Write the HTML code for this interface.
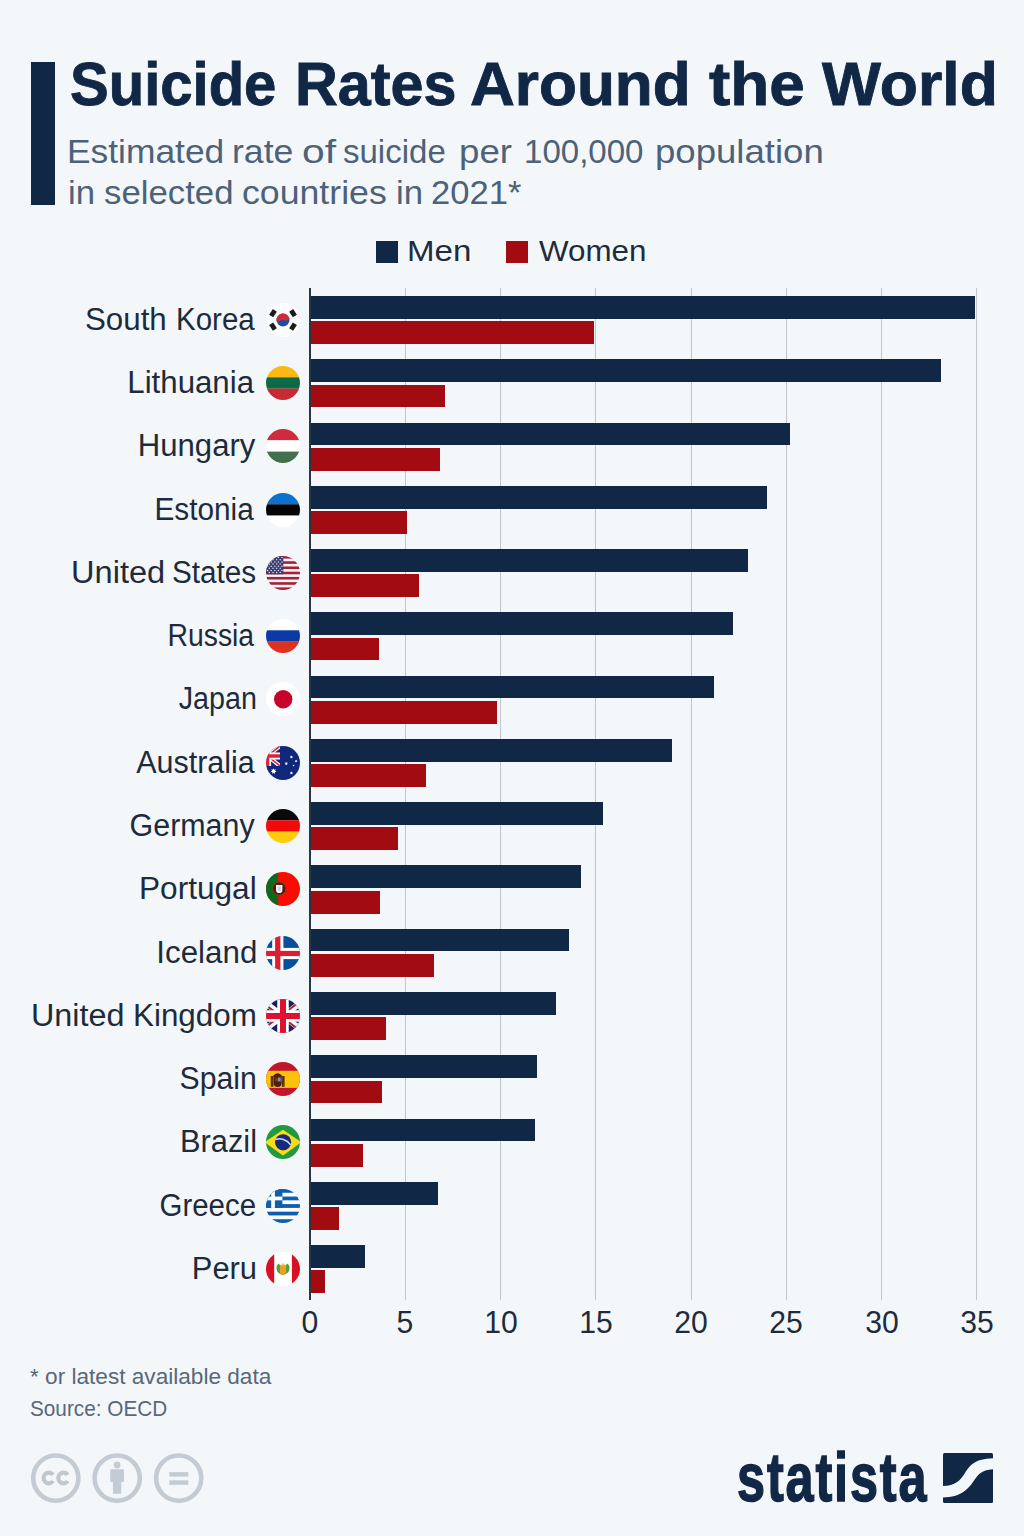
<!DOCTYPE html>
<html lang="en"><head><meta charset="utf-8"><title>Suicide Rates Around the World</title>
<style>
html,body{margin:0;padding:0;}
body{width:1024px;height:1536px;background:#f4f7fa;position:relative;overflow:hidden;font-family:"Liberation Sans",sans-serif;}
.t{position:absolute;white-space:nowrap;line-height:1;margin:0;padding:0;}
.wrap{margin:0;padding:0;height:0;font-size:0;line-height:0;font-weight:normal;}
.l{transform-origin:0 0;}
.r{transform-origin:100% 0;}
.c{transform-origin:50% 0;}
.bar{position:absolute;left:310.0px;}
.m{background:#102746;height:22.8px;}
.w{background:#a30b12;height:22.8px;}
.g{position:absolute;top:288px;width:1px;height:1012px;background:#c1c6cc;}
.flag{position:absolute;left:266px;width:34px;height:34px;}
.flag svg{display:block;width:34px;height:34px;}
.lab{color:#1e2b3c;font-size:28.5px;}
.ax{color:#1e2b3c;font-size:28.5px;}
.fn{color:#4d6279;font-size:21.5px;}
</style></head><body>
<div style="position:absolute;left:31px;top:62px;width:23.5px;height:142.5px;background:#102746"></div>
<h1 class="wrap">
<span id="title_0" class="t l " style="top:53.02px;font-size:61.4px;color:#102746;font-weight:bold;left:69.55px;transform:scaleX(0.9452);-webkit-text-stroke:0.9px #102746;">Suicide</span>
<span id="title_1" class="t l " style="top:53.02px;font-size:61.4px;color:#102746;font-weight:bold;left:295.15px;transform:scaleX(0.9654);-webkit-text-stroke:0.9px #102746;">Rates</span>
<span id="title_2" class="t l " style="top:53.02px;font-size:61.4px;color:#102746;font-weight:bold;left:470.35px;transform:scaleX(1.0113);-webkit-text-stroke:0.9px #102746;">Around</span>
<span id="title_3" class="t l " style="top:53.02px;font-size:61.4px;color:#102746;font-weight:bold;left:709.35px;transform:scaleX(1.0403);-webkit-text-stroke:0.9px #102746;">the</span>
<span id="title_4" class="t l " style="top:53.02px;font-size:61.4px;color:#102746;font-weight:bold;left:822.15px;transform:scaleX(1.0178);-webkit-text-stroke:0.9px #102746;">World</span>
</h1>
<p class="wrap">
<span id="sub1_0" class="t l " style="top:134.92px;font-size:33.4px;color:#4d6279;left:66.65px;transform:scaleX(1.0595);">Estimated</span>
<span id="sub1_1" class="t l " style="top:134.92px;font-size:33.4px;color:#4d6279;left:231.90px;transform:scaleX(1.0662);">rate</span>
<span id="sub1_2" class="t l " style="top:134.92px;font-size:33.4px;color:#4d6279;left:302.15px;transform:scaleX(1.2198);">of</span>
<span id="sub1_3" class="t l " style="top:134.92px;font-size:33.4px;color:#4d6279;left:343.20px;transform:scaleX(0.9885);">suicide</span>
<span id="sub1_4" class="t l " style="top:134.92px;font-size:33.4px;color:#4d6279;left:459.20px;transform:scaleX(1.0988);">per</span>
<span id="sub1_5" class="t l " style="top:134.92px;font-size:33.4px;color:#4d6279;left:524.40px;transform:scaleX(0.9900);">100,000</span>
<span id="sub1_6" class="t l " style="top:134.92px;font-size:33.4px;color:#4d6279;left:654.50px;transform:scaleX(1.0954);">population</span>
</p>
<p class="wrap">
<span id="sub2_0" class="t l " style="top:176.02px;font-size:33.4px;color:#4d6279;left:67.80px;transform:scaleX(1.0396);">in</span>
<span id="sub2_1" class="t l " style="top:176.02px;font-size:33.4px;color:#4d6279;left:103.60px;transform:scaleX(1.0410);">selected</span>
<span id="sub2_2" class="t l " style="top:176.02px;font-size:33.4px;color:#4d6279;left:242.30px;transform:scaleX(1.0684);">countries</span>
<span id="sub2_3" class="t l " style="top:176.02px;font-size:33.4px;color:#4d6279;left:395.70px;transform:scaleX(1.0416);">in</span>
<span id="sub2_4" class="t l " style="top:176.02px;font-size:33.4px;color:#4d6279;left:431.00px;transform:scaleX(1.0350);">2021*</span>
</p>
<div style="position:absolute;left:376px;top:241px;width:22px;height:21.5px;background:#102746"></div>
<div style="position:absolute;left:505.5px;top:241px;width:22px;height:21.5px;background:#a30b12"></div>
<div id="legm" class="t l " style="top:236.10px;font-size:30px;color:#1e2b3c;left:407.45px;transform:scaleX(1.1015);">Men</div>
<div id="legw" class="t l " style="top:236.10px;font-size:30px;color:#1e2b3c;left:539.25px;transform:scaleX(1.0445);">Women</div>
<div class="g" style="left:404.75px"></div>
<div class="g" style="left:500.00px"></div>
<div class="g" style="left:595.25px"></div>
<div class="g" style="left:690.50px"></div>
<div class="g" style="left:785.75px"></div>
<div class="g" style="left:881.00px"></div>
<div class="g" style="left:976.25px"></div>
<div class="bar m" style="top:296.00px;width:664.85px"></div>
<div class="bar w" style="top:321.30px;width:283.85px"></div>
<div class="flag" style="top:302.85px"><svg viewBox="0 0 34 34"><defs><clipPath id="c_kr"><circle cx="17" cy="17" r="17"/></clipPath></defs><g clip-path="url(#c_kr)"><rect width="34" height="34" fill="#ffffff"/><rect x="4.6" y="6.799999999999999" width="4.8" height="6.8" fill="#1c1c1c" transform="rotate(33 7 10.2)"/><rect x="24.6" y="6.799999999999999" width="4.8" height="6.8" fill="#1c1c1c" transform="rotate(-33 27 10.2)"/><rect x="4.6" y="20.200000000000003" width="4.8" height="6.8" fill="#1c1c1c" transform="rotate(-33 7 23.6)"/><rect x="24.6" y="20.200000000000003" width="4.8" height="6.8" fill="#1c1c1c" transform="rotate(33 27 23.6)"/><circle cx="17" cy="17" r="6.5" fill="#1d4ea0"/><path d="M10.6 18.2 A6.5 6.5 0 0 1 23.4 15.8 C 21 19.5 17.5 15.5 14.5 17.6 C 13 18.7 11.5 19 10.6 18.2 Z" fill="#d22b36"/></g></svg></div>
<div class="wrap">
<span id="lab_kr_0" class="t l lab" style="top:304.82px;font-size:30.8px;left:85.10px;transform:scaleX(1.0161);">South</span>
<span id="lab_kr_1" class="t l lab" style="top:304.82px;font-size:30.8px;left:175.50px;transform:scaleX(0.9578);">Korea</span>
</div>
<div class="bar m" style="top:359.27px;width:630.56px"></div>
<div class="bar w" style="top:384.57px;width:135.25px"></div>
<div class="flag" style="top:366.12px"><svg viewBox="0 0 34 34"><defs><clipPath id="c_lt"><circle cx="17" cy="17" r="17"/></clipPath></defs><g clip-path="url(#c_lt)"><rect width="34" height="11.4" fill="#fdb913"/><rect y="11.3" width="34" height="11.4" fill="#0a6b45"/><rect y="22.6" width="34" height="11.4" fill="#c92a32"/></g></svg></div>
<div id="lab_lt" class="t r lab" style="top:368.09px;font-size:30.8px;right:769.95px;transform:scaleX(1.0135);">Lithuania</div>
<div class="bar m" style="top:422.54px;width:480.06px"></div>
<div class="bar w" style="top:447.84px;width:129.54px"></div>
<div class="flag" style="top:429.39px"><svg viewBox="0 0 34 34"><defs><clipPath id="c_hu"><circle cx="17" cy="17" r="17"/></clipPath></defs><g clip-path="url(#c_hu)"><rect width="34" height="11.4" fill="#cf2b3d"/><rect y="11.3" width="34" height="11.4" fill="#ffffff"/><rect y="22.6" width="34" height="11.4" fill="#43704c"/></g></svg></div>
<div id="lab_hu" class="t r lab" style="top:431.36px;font-size:30.8px;right:768.85px;transform:scaleX(1.0106);">Hungary</div>
<div class="bar m" style="top:485.81px;width:457.20px"></div>
<div class="bar w" style="top:511.11px;width:97.16px"></div>
<div class="flag" style="top:492.66px"><svg viewBox="0 0 34 34"><defs><clipPath id="c_ee"><circle cx="17" cy="17" r="17"/></clipPath></defs><g clip-path="url(#c_ee)"><rect width="34" height="11.4" fill="#0c72ce"/><rect y="11.3" width="34" height="11.4" fill="#050505"/><rect y="22.6" width="34" height="11.4" fill="#ffffff"/></g></svg></div>
<div id="lab_ee" class="t r lab" style="top:494.63px;font-size:30.8px;right:770.10px;transform:scaleX(0.9665);">Estonia</div>
<div class="bar m" style="top:549.08px;width:438.15px"></div>
<div class="bar w" style="top:574.38px;width:108.59px"></div>
<div class="flag" style="top:555.93px"><svg viewBox="0 0 34 34"><defs><clipPath id="c_us"><circle cx="17" cy="17" r="17"/></clipPath></defs><g clip-path="url(#c_us)"><rect width="34" height="34" fill="#fdf1f3"/><rect y="0.00" width="34" height="2.62" fill="#a0253a"/><rect y="5.23" width="34" height="2.62" fill="#a0253a"/><rect y="10.46" width="34" height="2.62" fill="#a0253a"/><rect y="15.69" width="34" height="2.62" fill="#a0253a"/><rect y="20.92" width="34" height="2.62" fill="#a0253a"/><rect y="26.15" width="34" height="2.62" fill="#a0253a"/><rect y="31.38" width="34" height="2.62" fill="#a0253a"/><rect width="17.3" height="18.31" fill="#3a3a6e"/><circle cx="1.6" cy="1.6" r="0.75" fill="#e8e8f4"/><circle cx="5.2" cy="1.6" r="0.75" fill="#e8e8f4"/><circle cx="8.8" cy="1.6" r="0.75" fill="#e8e8f4"/><circle cx="12.4" cy="1.6" r="0.75" fill="#e8e8f4"/><circle cx="16.0" cy="1.6" r="0.75" fill="#e8e8f4"/><circle cx="3.4" cy="3.8" r="0.75" fill="#e8e8f4"/><circle cx="7.0" cy="3.8" r="0.75" fill="#e8e8f4"/><circle cx="10.6" cy="3.8" r="0.75" fill="#e8e8f4"/><circle cx="14.2" cy="3.8" r="0.75" fill="#e8e8f4"/><circle cx="1.6" cy="5.9" r="0.75" fill="#e8e8f4"/><circle cx="5.2" cy="5.9" r="0.75" fill="#e8e8f4"/><circle cx="8.8" cy="5.9" r="0.75" fill="#e8e8f4"/><circle cx="12.4" cy="5.9" r="0.75" fill="#e8e8f4"/><circle cx="16.0" cy="5.9" r="0.75" fill="#e8e8f4"/><circle cx="3.4" cy="8.0" r="0.75" fill="#e8e8f4"/><circle cx="7.0" cy="8.0" r="0.75" fill="#e8e8f4"/><circle cx="10.6" cy="8.0" r="0.75" fill="#e8e8f4"/><circle cx="14.2" cy="8.0" r="0.75" fill="#e8e8f4"/><circle cx="1.6" cy="10.2" r="0.75" fill="#e8e8f4"/><circle cx="5.2" cy="10.2" r="0.75" fill="#e8e8f4"/><circle cx="8.8" cy="10.2" r="0.75" fill="#e8e8f4"/><circle cx="12.4" cy="10.2" r="0.75" fill="#e8e8f4"/><circle cx="16.0" cy="10.2" r="0.75" fill="#e8e8f4"/><circle cx="3.4" cy="12.3" r="0.75" fill="#e8e8f4"/><circle cx="7.0" cy="12.3" r="0.75" fill="#e8e8f4"/><circle cx="10.6" cy="12.3" r="0.75" fill="#e8e8f4"/><circle cx="14.2" cy="12.3" r="0.75" fill="#e8e8f4"/><circle cx="1.6" cy="14.5" r="0.75" fill="#e8e8f4"/><circle cx="5.2" cy="14.5" r="0.75" fill="#e8e8f4"/><circle cx="8.8" cy="14.5" r="0.75" fill="#e8e8f4"/><circle cx="12.4" cy="14.5" r="0.75" fill="#e8e8f4"/><circle cx="16.0" cy="14.5" r="0.75" fill="#e8e8f4"/><circle cx="3.4" cy="16.6" r="0.75" fill="#e8e8f4"/><circle cx="7.0" cy="16.6" r="0.75" fill="#e8e8f4"/><circle cx="10.6" cy="16.6" r="0.75" fill="#e8e8f4"/><circle cx="14.2" cy="16.6" r="0.75" fill="#e8e8f4"/></g></svg></div>
<div class="wrap">
<span id="lab_us_0" class="t l lab" style="top:557.90px;font-size:30.8px;left:71.15px;transform:scaleX(1.0580);">United</span>
<span id="lab_us_1" class="t l lab" style="top:557.90px;font-size:30.8px;left:171.65px;transform:scaleX(0.9646);">States</span>
</div>
<div class="bar m" style="top:612.35px;width:422.91px"></div>
<div class="bar w" style="top:637.65px;width:68.58px"></div>
<div class="flag" style="top:619.20px"><svg viewBox="0 0 34 34"><defs><clipPath id="c_ru"><circle cx="17" cy="17" r="17"/></clipPath></defs><g clip-path="url(#c_ru)"><rect width="34" height="11.4" fill="#ffffff"/><rect y="11.3" width="34" height="11.4" fill="#0a3aa8"/><rect y="22.6" width="34" height="11.4" fill="#e0301f"/></g></svg></div>
<div id="lab_ru" class="t r lab" style="top:621.17px;font-size:30.8px;right:769.90px;transform:scaleX(0.9209);">Russia</div>
<div class="bar m" style="top:675.62px;width:403.86px"></div>
<div class="bar w" style="top:700.92px;width:186.69px"></div>
<div class="flag" style="top:682.47px"><svg viewBox="0 0 34 34"><defs><clipPath id="c_jp"><circle cx="17" cy="17" r="17"/></clipPath></defs><g clip-path="url(#c_jp)"><rect width="34" height="34" fill="#ffffff"/><circle cx="17.2" cy="17.2" r="9.2" fill="#c5032b"/></g></svg></div>
<div id="lab_jp" class="t r lab" style="top:684.44px;font-size:30.8px;right:767.30px;transform:scaleX(0.9320);">Japan</div>
<div class="bar m" style="top:738.89px;width:361.95px"></div>
<div class="bar w" style="top:764.19px;width:116.20px"></div>
<div class="flag" style="top:745.74px"><svg viewBox="0 0 34 34"><defs><clipPath id="c_au"><circle cx="17" cy="17" r="17"/></clipPath></defs><g clip-path="url(#c_au)"><rect width="34" height="34" fill="#10277a"/><g><clipPath id="c_auj"><rect x="-11" y="0" width="25" height="20"/></clipPath><g clip-path="url(#c_auj)"><path d="M-11 0 L14 20 M14 0 L-11 20" stroke="#ffffff" stroke-width="4"/><path d="M-11 0 L14 20 M14 0 L-11 20" stroke="#d3203a" stroke-width="1.5"/><path d="M1.5 0 V20 M-11 10 H14" stroke="#ffffff" stroke-width="7.2"/><path d="M1.5 0 V20 M-11 10 H14" stroke="#dc1f3a" stroke-width="3.6"/></g></g><polygon points="7.60,22.20 8.25,23.85 9.95,23.33 9.06,24.87 10.52,25.87 8.77,26.14 8.90,27.90 7.60,26.70 6.30,27.90 6.43,26.14 4.68,25.87 6.14,24.87 5.25,23.33 6.95,23.85" fill="#ffffff"/><polygon points="25.40,9.30 25.77,10.23 26.73,9.94 26.23,10.81 27.06,11.38 26.06,11.53 26.14,12.53 25.40,11.85 24.66,12.53 24.74,11.53 23.74,11.38 24.57,10.81 24.07,9.94 25.03,10.23" fill="#ffffff"/><polygon points="30.10,13.60 30.43,14.42 31.27,14.16 30.83,14.93 31.56,15.43 30.69,15.57 30.75,16.45 30.10,15.85 29.45,16.45 29.51,15.57 28.64,15.43 29.37,14.93 28.93,14.16 29.77,14.42" fill="#ffffff"/><polygon points="20.30,15.90 20.67,16.83 21.63,16.54 21.13,17.41 21.96,17.98 20.96,18.13 21.04,19.13 20.30,18.45 19.56,19.13 19.64,18.13 18.64,17.98 19.47,17.41 18.97,16.54 19.93,16.83" fill="#ffffff"/><polygon points="27.60,18.50 27.89,19.10 28.55,19.19 28.08,19.65 28.19,20.31 27.60,20.00 27.01,20.31 27.12,19.65 26.65,19.19 27.31,19.10" fill="#ffffff"/><polygon points="25.40,25.20 25.77,26.13 26.73,25.84 26.23,26.71 27.06,27.28 26.06,27.43 26.14,28.43 25.40,27.75 24.66,28.43 24.74,27.43 23.74,27.28 24.57,26.71 24.07,25.84 25.03,26.13" fill="#ffffff"/></g></svg></div>
<div id="lab_au" class="t r lab" style="top:747.71px;font-size:30.8px;right:769.25px;transform:scaleX(0.9898);">Australia</div>
<div class="bar m" style="top:802.16px;width:293.37px"></div>
<div class="bar w" style="top:827.46px;width:87.63px"></div>
<div class="flag" style="top:809.01px"><svg viewBox="0 0 34 34"><defs><clipPath id="c_de"><circle cx="17" cy="17" r="17"/></clipPath></defs><g clip-path="url(#c_de)"><rect width="34" height="11.4" fill="#0a0a0a"/><rect y="11.3" width="34" height="11.4" fill="#f20a0a"/><rect y="22.6" width="34" height="11.4" fill="#ffcc0a"/></g></svg></div>
<div id="lab_de" class="t r lab" style="top:810.98px;font-size:30.8px;right:769.65px;transform:scaleX(0.9873);">Germany</div>
<div class="bar m" style="top:865.43px;width:270.51px"></div>
<div class="bar w" style="top:890.73px;width:70.48px"></div>
<div class="flag" style="top:872.28px"><svg viewBox="0 0 34 34"><defs><clipPath id="c_pt"><circle cx="17" cy="17" r="17"/></clipPath></defs><g clip-path="url(#c_pt)"><rect width="34" height="34" fill="#ff0a00"/><rect width="12.2" height="34" fill="#0a6a1f"/><circle cx="13.2" cy="16.6" r="6.7" fill="#5e1410"/><circle cx="13.2" cy="16.6" r="6.7" fill="none" stroke="#7a4a14" stroke-width="1"/><path d="M10 12.9 h6.4 v4.8 q0 3.4 -3.2 3.4 q-3.2 0 -3.2 -3.4 z" fill="#ffffff"/><path d="M11.6 14.2 h3.2 v3.2 q0 1.7 -1.6 1.7 q-1.6 0 -1.6 -1.7 z" fill="#c9d3ea"/></g></svg></div>
<div id="lab_pt" class="t r lab" style="top:874.25px;font-size:30.8px;right:767.75px;transform:scaleX(1.0262);">Portugal</div>
<div class="bar m" style="top:928.70px;width:259.08px"></div>
<div class="bar w" style="top:954.00px;width:123.83px"></div>
<div class="flag" style="top:935.55px"><svg viewBox="0 0 34 34"><defs><clipPath id="c_is"><circle cx="17" cy="17" r="17"/></clipPath></defs><g clip-path="url(#c_is)"><rect width="34" height="34" fill="#0a4f9a"/><rect x="6.2" width="11.2" height="34" fill="#ffffff"/><rect y="11.9" width="34" height="11.2" fill="#ffffff"/><rect x="9.1" width="5.3" height="34" fill="#dc1e35"/><rect y="14.9" width="34" height="5.2" fill="#dc1e35"/></g></svg></div>
<div id="lab_is" class="t r lab" style="top:937.52px;font-size:30.8px;right:766.95px;transform:scaleX(1.0170);">Iceland</div>
<div class="bar m" style="top:991.97px;width:245.75px"></div>
<div class="bar w" style="top:1017.27px;width:76.20px"></div>
<div class="flag" style="top:998.82px"><svg viewBox="0 0 34 34"><defs><clipPath id="c_gb"><circle cx="17" cy="17" r="17"/></clipPath></defs><g clip-path="url(#c_gb)"><rect width="34" height="34" fill="#1a1f5e"/><path d="M-6 0 L40 34 M40 0 L-6 34" stroke="#ffffff" stroke-width="5.8"/><path d="M-6 0 L17 17 M40 34 L17 17" stroke="#a8243c" stroke-width="2" transform="translate(-0.9 1.2)"/><path d="M40 0 L17 17 M-6 34 L17 17" stroke="#a8243c" stroke-width="2" transform="translate(-0.9 -1.2)"/><path d="M17 0 V34 M0 17 H34" stroke="#ffffff" stroke-width="11.5"/><path d="M17 0 V34 M0 17 H34" stroke="#e01030" stroke-width="6"/></g></svg></div>
<div class="wrap">
<span id="lab_gb_0" class="t l lab" style="top:1000.79px;font-size:30.8px;left:30.60px;transform:scaleX(1.0509);">United</span>
<span id="lab_gb_1" class="t l lab" style="top:1000.79px;font-size:30.8px;left:132.55px;transform:scaleX(1.0182);">Kingdom</span>
</div>
<div class="bar m" style="top:1055.24px;width:226.70px"></div>
<div class="bar w" style="top:1080.54px;width:72.39px"></div>
<div class="flag" style="top:1062.09px"><svg viewBox="0 0 34 34"><defs><clipPath id="c_es"><circle cx="17" cy="17" r="17"/></clipPath></defs><g clip-path="url(#c_es)"><rect width="34" height="34" fill="#c2162a"/><rect y="8.8" width="34" height="17.1" fill="#fcc20a"/><rect x="4.7" y="14" width="2.8" height="10.8" fill="#5e3018"/><rect x="15.8" y="14" width="2.8" height="10.8" fill="#5e3018"/><path d="M7.4 13.6 q4.2 -4.6 8.4 0 v1.4 h-8.4 z" fill="#4a2010"/><path d="M7.6 14.6 h8 v6.4 q0 4 -4 4 q-4 0 -4 -4 z" fill="#4e1e12"/><path d="M11.7 15.6 h3 v4 h-3 z" fill="#8a8aa0"/><path d="M8.8 15.6 h2.6 v4 h-2.6 z" fill="#8a2a20"/></g></svg></div>
<div id="lab_es" class="t r lab" style="top:1064.06px;font-size:30.8px;right:767.30px;transform:scaleX(0.9801);">Spain</div>
<div class="bar m" style="top:1118.51px;width:224.79px"></div>
<div class="bar w" style="top:1143.81px;width:53.34px"></div>
<div class="flag" style="top:1125.36px"><svg viewBox="0 0 34 34"><defs><clipPath id="c_br"><circle cx="17" cy="17" r="17"/></clipPath></defs><g clip-path="url(#c_br)"><rect width="34" height="34" fill="#1f9a40"/><path d="M-1.5 17.3 L17 4.8 L35.5 17.3 L17 30.4 Z" fill="#fbdc14"/><circle cx="17.1" cy="17.3" r="8.1" fill="#16297e"/><path d="M9.6 14.6 C 14 12.8 21 14.4 24.6 19.8" fill="none" stroke="#c8dcf0" stroke-width="1.5"/></g></svg></div>
<div id="lab_br" class="t r lab" style="top:1127.33px;font-size:30.8px;right:767.05px;transform:scaleX(0.9998);">Brazil</div>
<div class="bar m" style="top:1181.78px;width:127.64px"></div>
<div class="bar w" style="top:1207.08px;width:28.58px"></div>
<div class="flag" style="top:1188.63px"><svg viewBox="0 0 34 34"><defs><clipPath id="c_gr"><circle cx="17" cy="17" r="17"/></clipPath></defs><g clip-path="url(#c_gr)"><rect width="34" height="34" fill="#ffffff"/><rect y="0.00" width="34" height="3.78" fill="#0d5eaf"/><rect y="7.56" width="34" height="3.78" fill="#0d5eaf"/><rect y="15.11" width="34" height="3.78" fill="#0d5eaf"/><rect y="22.67" width="34" height="3.78" fill="#0d5eaf"/><rect y="30.22" width="34" height="3.78" fill="#0d5eaf"/><rect width="16.4" height="18.89" fill="#0d5eaf"/><rect x="5.2" width="3.7" height="18.89" fill="#ffffff"/><rect y="7.56" width="16.4" height="3.78" fill="#ffffff"/></g></svg></div>
<div id="lab_gr" class="t r lab" style="top:1190.60px;font-size:30.8px;right:768.10px;transform:scaleX(0.9555);">Greece</div>
<div class="bar m" style="top:1245.05px;width:55.24px"></div>
<div class="bar w" style="top:1270.35px;width:15.24px"></div>
<div class="flag" style="top:1251.90px"><svg viewBox="0 0 34 34"><defs><clipPath id="c_pe"><circle cx="17" cy="17" r="17"/></clipPath></defs><g clip-path="url(#c_pe)"><rect width="34" height="34" fill="#ffffff"/><rect width="8.2" height="34" fill="#d91023"/><rect x="25.9" width="8.2" height="34" fill="#d91023"/><path d="M12.4 11.6 A6.5 6.5 0 1 0 21.6 11.6 L19 14 H15 Z" fill="#52a035"/><path d="M13.9 13 h6.2 v6.2 q0 3.6 -3.1 3.6 q-3.1 0 -3.1 -3.6 z" fill="#e9a12a"/><path d="M14.6 13.4 q2.4 -4.4 4.8 0 z" fill="#ecd04a"/></g></svg></div>
<div id="lab_pe" class="t r lab" style="top:1253.87px;font-size:30.8px;right:766.85px;transform:scaleX(1.0032);">Peru</div>
<div style="position:absolute;left:309.30px;top:288px;width:1.4px;height:1012px;background:#2a3646"></div>
<div id="ax0" class="t c ax" style="top:1307.49px;font-size:30.6px;left:160.00px;width:300px;text-align:center;transform:scaleX(0.9850);">0</div>
<div id="ax1" class="t c ax" style="top:1307.49px;font-size:30.6px;left:255.25px;width:300px;text-align:center;transform:scaleX(0.9850);">5</div>
<div id="ax2" class="t c ax" style="top:1307.49px;font-size:30.6px;left:350.50px;width:300px;text-align:center;transform:scaleX(0.9850);">10</div>
<div id="ax3" class="t c ax" style="top:1307.49px;font-size:30.6px;left:445.75px;width:300px;text-align:center;transform:scaleX(0.9850);">15</div>
<div id="ax4" class="t c ax" style="top:1307.49px;font-size:30.6px;left:541.00px;width:300px;text-align:center;transform:scaleX(0.9850);">20</div>
<div id="ax5" class="t c ax" style="top:1307.49px;font-size:30.6px;left:636.25px;width:300px;text-align:center;transform:scaleX(0.9850);">25</div>
<div id="ax6" class="t c ax" style="top:1307.49px;font-size:30.6px;left:731.50px;width:300px;text-align:center;transform:scaleX(0.9850);">30</div>
<div id="ax7" class="t c ax" style="top:1307.49px;font-size:30.6px;left:826.75px;width:300px;text-align:center;transform:scaleX(0.9850);">35</div>
<div id="fn1" class="t l fn" style="top:1365.95px;font-size:22.5px;color:#57687a;left:30.25px;transform:scaleX(1.0047);">* or latest available data</div>
<div id="fn2" class="t l fn" style="top:1397.95px;font-size:22.5px;color:#57687a;left:29.75px;transform:scaleX(0.9219);">Source: OECD</div>
<svg style="position:absolute;left:28px;top:1450px" width="180" height="56" viewBox="28 1450 180 56">
<g fill="none" stroke="#c3ccd4" stroke-width="4.6">
<circle cx="55.8" cy="1478.1" r="22.6"/><circle cx="117.2" cy="1478.1" r="22.6"/><circle cx="178.7" cy="1478.1" r="22.6"/>
</g>
<g fill="none" stroke="#bfc7cf" stroke-width="4.2">
<path d="M53.01 1474.83 A5.2 5.4 0 1 0 53.01 1481.17"/><path d="M67.71 1474.83 A5.2 5.4 0 1 0 67.71 1481.17"/>
</g>
<g fill="#c3ccd4">
<circle cx="117.1" cy="1465" r="3.4"/>
<path d="M110.2 1470.6 q0 -1.3 1.3 -1.3 h11.2 q1.3 0 1.3 1.3 v11.4 h-2.7 v11.7 h-8.4 v-11.7 h-2.7 z"/>
<rect x="169.3" y="1472.1" width="19" height="4.5"/>
<rect x="169.3" y="1480.3" width="19" height="4.5"/>
</g>
</svg>
<div id="stat" class="t l " style="top:1442.78px;font-size:69px;color:#102746;font-weight:bold;left:736.70px;transform:scaleX(0.7316);-webkit-text-stroke:1.5px #102746;letter-spacing:2.5px;">statista</div>
<svg style="position:absolute;left:943px;top:1453px" width="50" height="50" viewBox="0 0 50 50">
<rect x="0" y="0" width="50" height="50" rx="1.5" fill="#102746"/>
<path d="M-1 33 C 12 33 17 28 22 20 C 27 12 32 5.5 51 5.2 L51 16.3 C 38 16.5 35 22 30 29 C 25 36 18 44.5 -1 44.5 Z" fill="#f4f7fa"/>
</svg>
</body></html>
